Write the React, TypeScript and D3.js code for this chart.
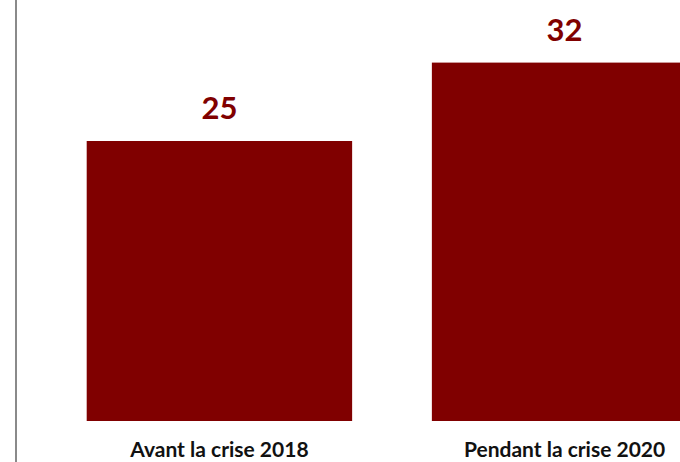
import React from "react";
import * as d3 from "d3";

const categories = ["Avant la crise 2018", "Pendant la crise 2020"];
const values = [25, 32];

const W = 680;
const H = 462;

export default function App() {
  const x = d3
    .scaleBand<string>()
    .domain(categories)
    .range([47, 737])
    .paddingInner(0.231)
    .paddingOuter(0.115);
  const y = d3.scaleLinear().domain([0, 25]).range([421, 141]);

  return (
    <svg
      width={W}
      height={H}
      style={{ position: "absolute", left: 0, top: 0, display: "block", overflow: "hidden" }}
    >
      <rect x={0} y={0} width={W} height={H} fill="#ffffff" />
      <line x1={16} x2={16} y1={0} y2={H} stroke="#8a8a8a" strokeWidth={2} />
      {categories.map((c, i) => {
        const x0 = x(c)!;
        const bw = x.bandwidth();
        const cx = x0 + bw / 2;
        return (
          <g key={c}>
            <rect x={x0} y={y(values[i])} width={bw} height={y(0) - y(values[i])} fill="#800000" />
            <text
              x={cx}
              y={y(values[i]) - 22}
              textAnchor="middle"
              fontFamily="Lato"
              fontWeight="bold"
              fontSize={31}
              fill="#800000"
            >
              {values[i]}
            </text>
            <text
              x={cx}
              y={457}
              textAnchor="middle"
              fontFamily="Lato"
              fontWeight="bold"
              fontSize={21}
              fill="#111111"
            >
              {c}
            </text>
          </g>
        );
      })}
    </svg>
  );
}
